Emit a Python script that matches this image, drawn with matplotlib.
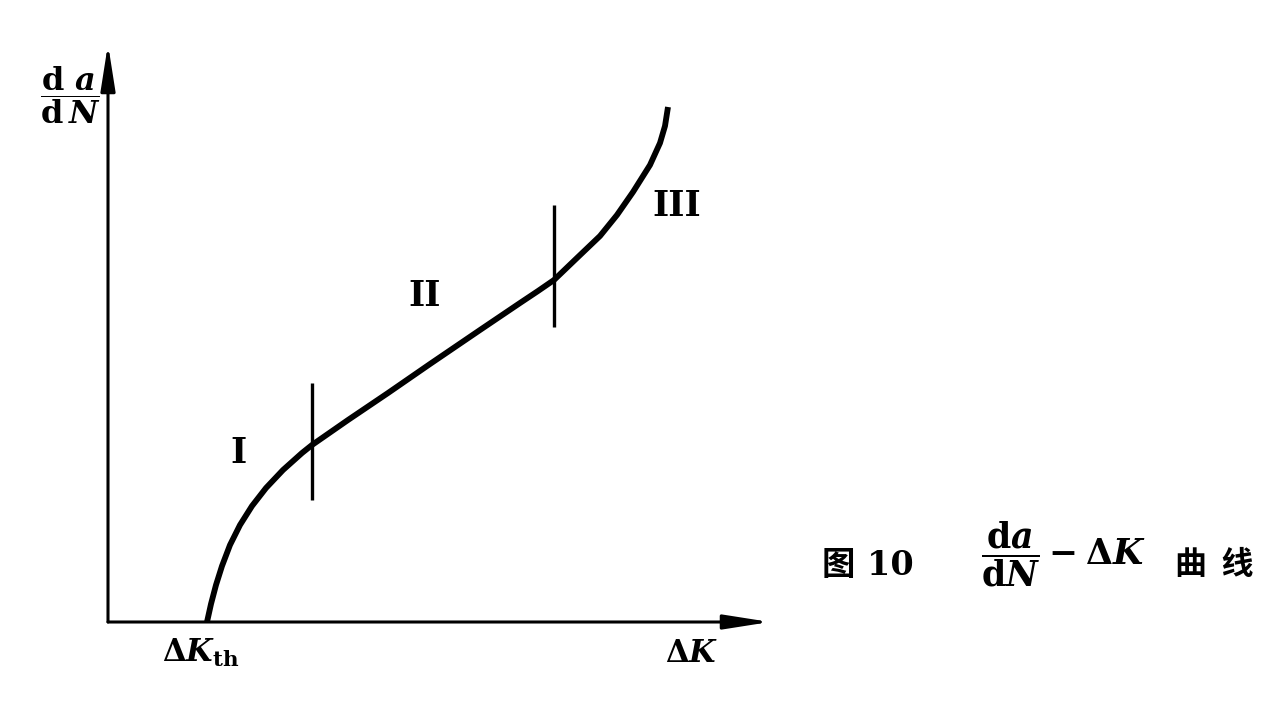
import numpy as np
import matplotlib.pyplot as plt

plt.rcParams['mathtext.fontset'] = 'custom'
plt.rcParams['mathtext.rm'] = 'DejaVu Serif:bold'
plt.rcParams['mathtext.bf'] = 'DejaVu Serif:bold'
plt.rcParams['mathtext.it'] = 'DejaVu Serif:italic:bold'

# S-shaped da/dN - dK curve (arbitrary units, origin at the axes corner)
dK = [99, 103, 108, 114, 122, 132, 144, 158, 175, 194, 204, 240, 280, 322,
      372, 412, 430, 446, 470, 492, 509, 525, 542, 552, 557, 560]
dadN = [0, 18, 37, 56, 77, 97, 116, 134, 152, 169, 177, 202, 229, 258,
        292, 319, 331, 342, 365, 386, 407, 430, 457, 479, 496, 515]

# region boundaries (vertical marks) and their extents
bound_x = [204, 446]
bound_lo = [122, 295]
bound_hi = [239, 417]

# region labels
region_labels = ['I', 'II', 'III']
region_x = [130, 317, 569]
region_y = [169, 326, 416]

x_end = 662
y_end = 578

fig = plt.figure(figsize=(12.8, 7.1), dpi=100)
ax = fig.add_axes([0, 0, 1, 1])
ax.set_xlim(-108, 1172)
ax.set_ylim(-88, 622)
ax.axis('off')

# axes with arrows
arrow = dict(arrowstyle='-|>,head_length=1.4,head_width=0.22', lw=2.2,
             color='black', shrinkA=0, shrinkB=0, mutation_scale=20)
ax.annotate('', xy=(0, y_end), xytext=(0, 0), arrowprops=arrow)
ax.annotate('', xy=(x_end, 0), xytext=(0, 0), arrowprops=arrow)

# curve
ax.plot(dK, dadN, color='black', lw=4.2, solid_capstyle='butt',
        solid_joinstyle='round')

# boundaries between regions
ax.vlines(bound_x, bound_lo, bound_hi, color='black', lw=2.4)

for lab, x, y in zip(region_labels, region_x, region_y):
    ax.text(x, y, lab, fontsize=25, fontfamily='DejaVu Serif',
            fontweight='bold', ha='center', va='center')

# axis labels
ax.text(54, -40, r'$\Delta K_{\mathrm{th}}$', fontsize=22, ha='left',
        va='baseline')
ax.text(557, -40, r'$\Delta K$', fontsize=22, ha='left', va='baseline')
ax.text(-38, 527, r'$\dfrac{\mathrm{d}\,\,a}{\mathrm{d}\,N}$', fontsize=23,
        ha='center', va='center')

# caption
ax.text(714, 57, '图 10', fontsize=24, fontweight='bold',
        family=['DejaVu Serif', 'Noto Sans CJK SC'], ha='left', va='center')
ax.text(873, 68, r'$\dfrac{\mathrm{d}a}{\mathrm{d}N}-\Delta K$', fontsize=25,
        ha='left', va='center')
ax.text(1067, 57, '曲  线', fontsize=23, fontweight='bold',
        family=['Noto Sans CJK SC', 'DejaVu Sans'], ha='left', va='center')

fig.savefig('out.png', dpi=100, facecolor='white')
